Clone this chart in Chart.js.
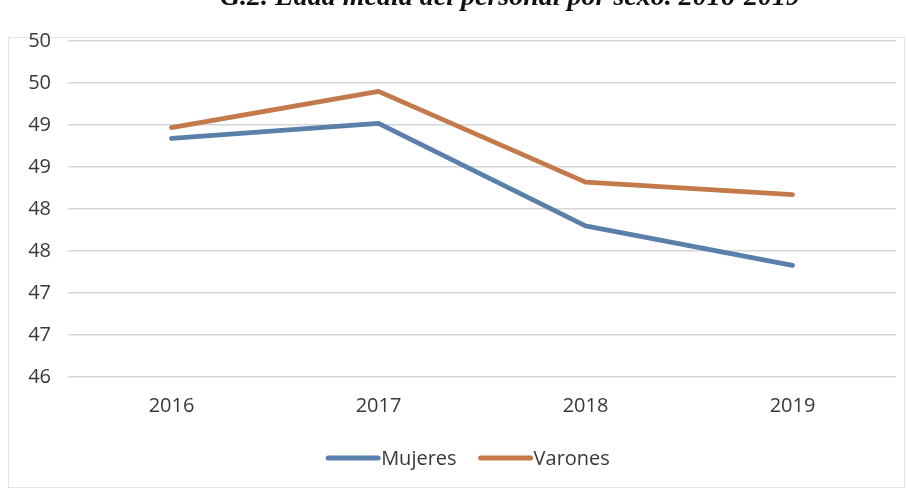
<!DOCTYPE html>
<html>
<head>
<meta charset="utf-8">
<script src="https://cdn.jsdelivr.net/npm/chart.js@4"></script>
<style>
  html, body { margin: 0; padding: 0; background: #fff; }
  #wrap { width: 908px; height: 489px; position: relative; }
</style>
</head>
<body>
<div id="wrap"><canvas id="c"></canvas></div>
<script>
// Edad media del personal por sexo, 2016-2019
const years = ['2016', '2017', '2018', '2019'];
const mujeres = [48.84, 49.02, 47.80, 47.33];
const varones = [48.97, 49.40, 48.32, 48.17];
const titleText = 'G.2. Edad media del personal por sexo. 2016-2019';

const BLUE = '#5a7fab';
const ORANGE = '#c3794a';
const TEXT = '#383838';

// heading (cut at the top edge), frame and legend are drawn by hand
const decor = {
  id: 'decor',
  beforeDraw(chart) {
    const ctx = chart.ctx;
    ctx.save();
    ctx.strokeStyle = '#e4e4e4';
    ctx.lineWidth = 1;
    ctx.strokeRect(8.5, 37.5, 896, 450);
    ctx.restore();
  },
  afterDraw(chart) {
    const ctx = chart.ctx;
    ctx.save();
    ctx.fillStyle = '#111';
    ctx.font = 'italic bold 28px "Liberation Serif"';
    ctx.textAlign = 'center';
    ctx.textBaseline = 'alphabetic';
    ctx.fillText(titleText, 510, 5);

    // legend
    ctx.font = '20px "Open Sans"';
    ctx.textBaseline = 'middle';
    ctx.textAlign = 'left';
    const sets = chart.data.datasets;
    const lineLen = 54, gap = 22;
    const widths = sets.map(d => lineLen + 1 + ctx.measureText(d.label).width);
    const total = widths.reduce((a, b) => a + b, 0) + gap * (sets.length - 1);
    let x = 468 - total / 2;
    const y = 458;
    sets.forEach((d, i) => {
      ctx.strokeStyle = d.borderColor;
      ctx.lineWidth = 5;
      ctx.lineCap = 'round';
      ctx.beginPath();
      ctx.moveTo(x + 2, y);
      ctx.lineTo(x + lineLen - 2, y);
      ctx.stroke();
      ctx.fillStyle = TEXT;
      ctx.fillText(d.label, x + lineLen + 1, y + 1);
      x += widths[i] + gap;
    });
    ctx.restore();
  }
};

new Chart(document.getElementById('c'), {
  type: 'line',
  data: {
    labels: years,
    datasets: [
      { label: 'Mujeres', data: mujeres, borderColor: BLUE, backgroundColor: BLUE },
      { label: 'Varones', data: varones, borderColor: ORANGE, backgroundColor: ORANGE }
    ]
  },
  options: {
    responsive: true,
    maintainAspectRatio: false,
    animation: false,
    layout: { padding: { top: 41, right: 12, left: 0, bottom: 0 } },
    elements: {
      line: { borderWidth: 4.8, tension: 0, borderCapStyle: 'round', borderJoinStyle: 'round' },
      point: { radius: 0, hoverRadius: 0 }
    },
    plugins: {
      legend: { display: false },
      title: { display: false },
      tooltip: { enabled: false }
    },
    scales: {
      x: {
        offset: true,
        grid: { display: false, drawTicks: false },
        border: { display: false },
        ticks: { color: TEXT, font: { family: 'Open Sans', size: 20 }, padding: 17, maxRotation: 0 },
        afterFit(scale) { scale.height = 112; }
      },
      y: {
        min: 46,
        max: 50,
        grid: { color: '#d6d6d6', lineWidth: 1.6, drawTicks: false },
        border: { display: false },
        ticks: {
          stepSize: 0.5,
          color: TEXT,
          padding: 17,
          font: { family: 'Open Sans', size: 20 },
          callback: v => Math.round(v).toString()
        },
        afterFit(scale) { scale.width = 68; }
      }
    }
  },
  plugins: [decor]
});
</script>
</body>
</html>
